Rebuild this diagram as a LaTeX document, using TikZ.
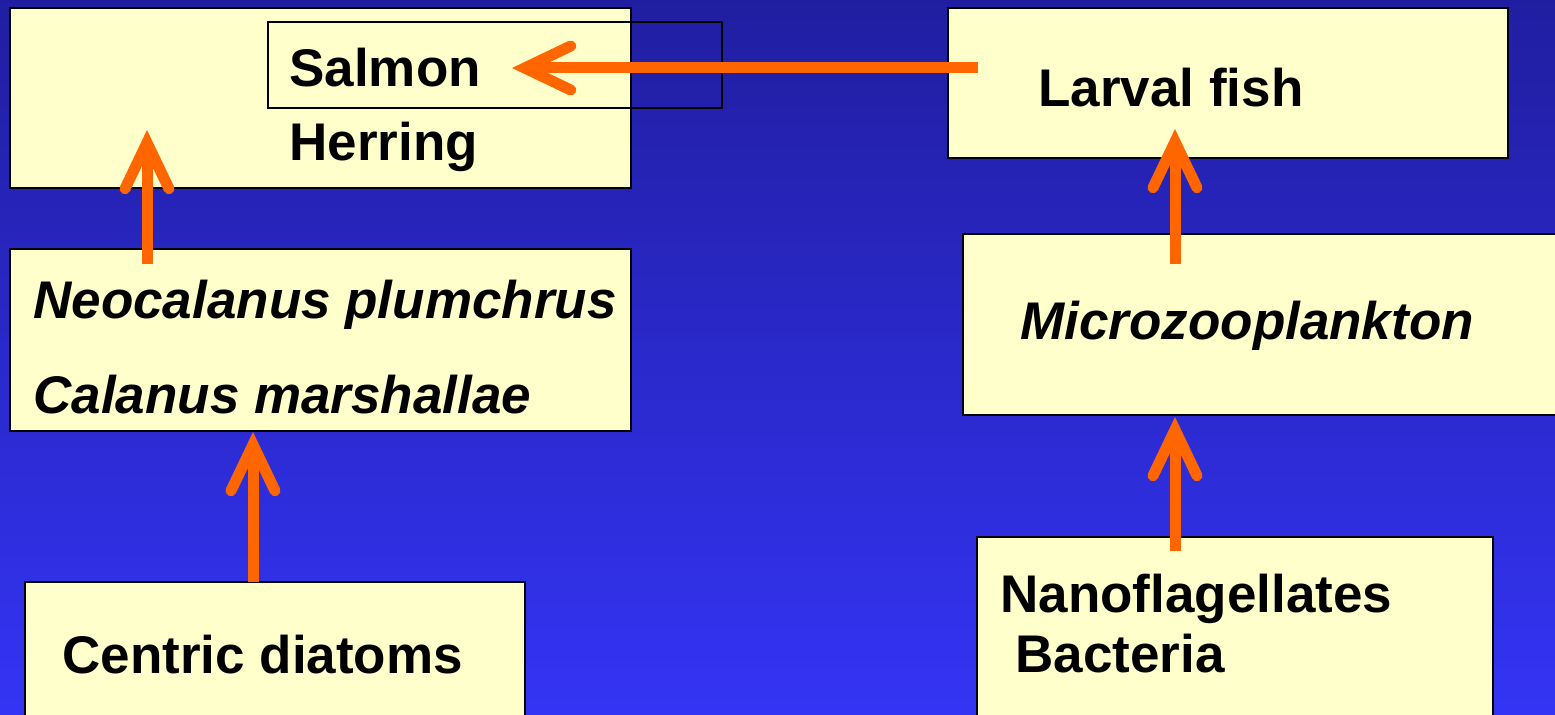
\documentclass[tikz,border=0pt]{standalone}
\usepackage{fontspec}
\setmainfont{Liberation Sans}
\usetikzlibrary{arrows.meta}
\definecolor{boxfill}{RGB}{255,255,204}
\definecolor{arrowc}{RGB}{255,102,0}
\definecolor{bgtop}{RGB}{32,30,160}
\definecolor{bgbot}{RGB}{52,52,245}
\begin{document}
\begin{tikzpicture}[x=0.5pt,y=-0.5pt,
  box/.style={draw=black,line width=1pt,fill=boxfill,rectangle,inner sep=0pt,outer sep=0pt,anchor=north west},
  thinbox/.style={draw=black,line width=0.7pt,rectangle,inner sep=0pt,outer sep=0pt,anchor=north west},
  lab/.style={anchor=base west,inner sep=0pt,font=\fontsize{26.5}{32}\selectfont\bfseries},
  ilab/.style={anchor=base west,inner sep=0pt,font=\fontsize{26.5}{32}\selectfont\bfseries\itshape},
  flow/.style={draw=arrowc,line width=5.5pt,-{Straight Barb[length=23pt,width=22pt,line cap=round]}}]
\useasboundingbox (0,0) rectangle (1555,715);
\clip (0,0) rectangle (1555,715);
\shade[top color=bgtop,bottom color=bgbot] (0,0) rectangle (1555,715);

% boxes
\node[box,minimum width=310.5pt,minimum height=90pt] (fishbox) at (10,8) {};
\node[box,minimum width=280pt,minimum height=75pt] (larvalbox) at (948,8) {};
\node[box,minimum width=310.5pt,minimum height=91pt] (copbox) at (10,249) {};
\node[box,minimum width=303.5pt,minimum height=90.5pt] (microbox) at (963,234) {};
\node[box,minimum width=250pt,minimum height=74pt] (diatbox) at (25,582) {};
\node[box,minimum width=258pt,minimum height=96.5pt] (nanobox) at (977,537) {};

% arrow end points
\coordinate (lfS) at (978,68);
\coordinate (salT) at (512,68);
\coordinate (copS) at (147,264);
\coordinate (fishT) at (147,130);
\coordinate (diatS) at (253,582);
\coordinate (copT) at (253,432);
\coordinate (microS) at (1175,264);
\coordinate (larvalT) at (1175,129);
\coordinate (nanoS) at (1175,551);
\coordinate (microT) at (1175,417);

% salmon inner box
\node[thinbox,minimum width=227pt,minimum height=43pt] (salmonbox) at (268,22) {};

% connectors
\draw[flow] (lfS) -- (salT);
\draw[flow] (copS) -- (fishT);
\draw[flow] (diatS) -- (copT);
\draw[flow] (microS) -- (larvalT);
\draw[flow] (nanoS) -- (microT);

% labels
\node[lab] (salmon) at (289,87) {Salmon};
\node[lab] (herring) at (289,161) {Herring};
\node[lab] (larval) at (1038,107) {Larval fish};
\node[ilab] (neo) at (33,319) {Neocalanus plumchrus};
\node[ilab] (cal) at (33,414) {Calanus marshallae};
\node[ilab] (micro) at (1020,340) {Microzooplankton};
\node[lab] (centric) at (62,674) {Centric diatoms};
\node[lab] (nano) at (1000,613) {Nanoflagellates};
\node[lab] (bact) at (1015,673) {Bacteria};
\end{tikzpicture}
\end{document}
